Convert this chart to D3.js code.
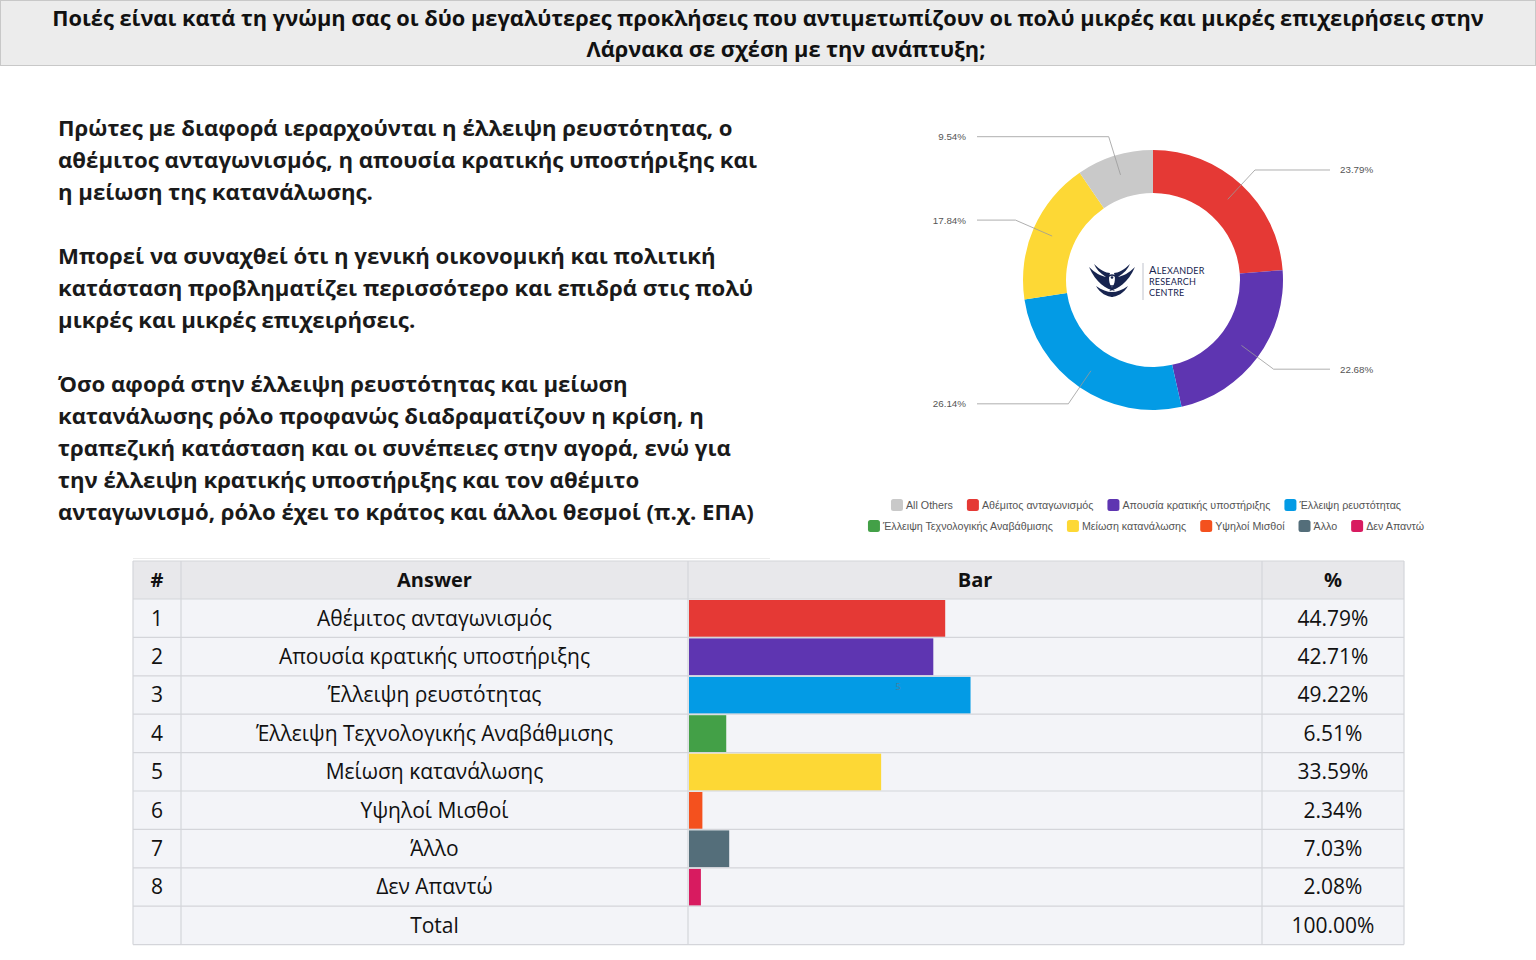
<!DOCTYPE html>
<html>
<head>
<meta charset="utf-8">
<script src="https://cdn.jsdelivr.net/npm/d3@7"></script>
<style>
  body { margin: 0; background: #fff; }
  svg { display: block; }
</style>
</head>
<body>
<div id="chart"></div>
<script>
// question and commentary
var titleLines = [
  "Ποιές είναι κατά τη γνώμη σας οι δύο μεγαλύτερες προκλήσεις που αντιμετωπίζουν οι πολύ μικρές και μικρές επιχειρήσεις στην",
  "Λάρνακα σε σχέση με την ανάπτυξη;"
];
var bodyParagraphs = [
  ["Πρώτες με διαφορά ιεραρχούνται η έλλειψη ρευστότητας, ο",
   "αθέμιτος ανταγωνισμός, η απουσία κρατικής υποστήριξης και",
   "η μείωση της κατανάλωσης."],
  ["Μπορεί να συναχθεί ότι η γενική οικονομική και πολιτική",
   "κατάσταση προβληματίζει περισσότερο και επιδρά στις πολύ",
   "μικρές και μικρές επιχειρήσεις."],
  ["Όσο αφορά στην έλλειψη ρευστότητας και μείωση",
   "κατανάλωσης ρόλο προφανώς διαδραματίζουν η κρίση, η",
   "τραπεζική κατάσταση και οι συνέπειες στην αγορά, ενώ για",
   "την έλλειψη κρατικής υποστήριξης και τον αθέμιτο",
   "ανταγωνισμό, ρόλο έχει το κράτος και άλλοι θεσμοί (π.χ. ΕΠΑ)"]
];

// table / bars
var answers = ["Αθέμιτος ανταγωνισμός", "Απουσία κρατικής υποστήριξης", "Έλλειψη ρευστότητας",
  "Έλλειψη Τεχνολογικής Αναβάθμισης", "Μείωση κατανάλωσης", "Υψηλοί Μισθοί", "Άλλο", "Δεν Απαντώ"];
var answerPct = [44.79, 42.71, 49.22, 6.51, 33.59, 2.34, 7.03, 2.08];
var totalLabel = "Total";
var totalPct = "100.00%";
var tableHeaders = ["#", "Answer", "Bar", "%"];

// donut
var donutCats = ["Αθέμιτος ανταγωνισμός", "Απουσία κρατικής υποστήριξης", "Έλλειψη ρευστότητας",
  "Μείωση κατανάλωσης", "All Others"];
var donutPct = [23.79, 22.68, 26.14, 17.84, 9.54];

// legend rows
var legendRow1 = ["All Others", "Αθέμιτος ανταγωνισμός", "Απουσία κρατικής υποστήριξης", "Έλλειψη ρευστότητας"];
var legendRow2 = ["Έλλειψη Τεχνολογικής Αναβάθμισης", "Μείωση κατανάλωσης", "Υψηλοί Μισθοί", "Άλλο", "Δεν Απαντώ"];

var color = d3.scaleOrdinal()
  .domain(["All Others"].concat(answers))
  .range(["#c9c9c9", "#e53935", "#5e35b1", "#039be5", "#43a047", "#fdd835", "#f4511e", "#546e7a", "#d81b60"]);

var W = 1536, H = 960;
var svg = d3.select("#chart").append("svg")
  .attr("width", W).attr("height", H)
  .style("background", "#fff");

// ---- title bar
svg.append("rect")
  .attr("x", 0.5).attr("y", 0.5).attr("width", W - 1).attr("height", 65)
  .attr("fill", "#ececec").attr("stroke", "#c8c8c8");
var titleCenters = [768, 786];
svg.selectAll("text.title").data(titleLines).enter().append("text")
  .attr("class", "title")
  .attr("x", function(d, i) { return titleCenters[i]; })
  .attr("y", function(d, i) { return 26 + i * 31; })
  .attr("text-anchor", "middle")
  .style("font-family", "'Open Sans', sans-serif")
  .style("font-weight", 700)
  .style("font-size", "21.8px")
  .style("fill", "#111")
  .text(function(d) { return d; });

// ---- commentary text
var paraTop = [136, 264, 392];
bodyParagraphs.forEach(function(lines, p) {
  svg.append("g").selectAll("text").data(lines).enter().append("text")
    .attr("x", 58)
    .attr("y", function(d, i) { return paraTop[p] + i * 32; })
    .style("font-family", "'Open Sans', sans-serif")
    .style("font-weight", 700)
    .style("font-size", "22.2px")
    .style("fill", "#1a1a1a")
    .text(function(d) { return d; });
});

// ---- donut
var cx = 1153, cy = 280, rOut = 130, rIn = 87;
var donutG = svg.append("g").attr("transform", "translate(" + cx + "," + cy + ")");
var pie = d3.pie().sort(null).value(function(d) { return d.v; });
var arcs = pie(donutCats.map(function(c, i) { return { c: c, v: donutPct[i] }; }));
var arc = d3.arc().innerRadius(rIn).outerRadius(rOut);
var midArc = d3.arc().innerRadius(110).outerRadius(110);
var elbowArc = d3.arc().innerRadius(150).outerRadius(150);

donutG.selectAll("path.slice").data(arcs).enter().append("path")
  .attr("class", "slice")
  .attr("d", arc)
  .attr("fill", function(d) { return color(d.data.c); });

arcs.forEach(function(d) {
  var a = midArc.centroid(d), b = elbowArc.centroid(d);
  var right = (d.startAngle + d.endAngle) / 2 < Math.PI;
  var endX = right ? 1330 - cx : 977 - cx;
  donutG.append("polyline")
    .attr("points", [a, b, [endX, b[1]]].map(function(p) { return p.join(","); }).join(" "))
    .attr("fill", "none").attr("stroke", "#9a9a9a").attr("stroke-width", 0.8);
  donutG.append("text")
    .attr("x", right ? endX + 10 : endX - 11)
    .attr("y", b[1])
    .attr("dy", "0.35em")
    .attr("text-anchor", right ? "start" : "end")
    .style("font-family", "'Liberation Sans', Arial, sans-serif")
    .style("font-size", "9.8px")
    .style("fill", "#555")
    .text(d3.format(".2f")(d.data.v) + "%");
});

// logo in the centre
var logo = svg.append("g").attr("transform", "translate(1112,281)");
var navy = "#17244f";
[-1, 1].forEach(function(s) {
  var w = logo.append("g").attr("transform", "scale(" + s + ",1)");
  w.append("path").attr("fill", navy)
    .attr("d", "M3,10 C-6,8 -16,2 -23,-14 C-17,-8 -11,-5 -6,-4 C-12,-8 -16,-12 -18,-17 C-12,-11 -6,-8 -2,-8 C-4,-2 -3,5 3,10 Z");
  w.append("path").attr("fill", navy)
    .attr("d", "M1,16 C-5,16 -12,12 -16,5 C-10,9 -5,11 0,11 Z");
});
logo.append("circle").attr("cx", 0).attr("cy", 0).attr("r", 6)
  .attr("fill", "none").attr("stroke", navy).attr("stroke-width", 1.6);
logo.append("path").attr("fill", navy).attr("d", "M-4,1 A4,4 0 0 0 4,1 A3,2.5 0 0 1 -4,1 Z");
logo.append("circle").attr("cx", 0).attr("cy", -3.5).attr("r", 1.3).attr("fill", navy);
svg.append("line").attr("x1", 1143).attr("x2", 1143).attr("y1", 263).attr("y2", 300)
  .attr("stroke", "#b0b4c0").attr("stroke-width", 0.8);
var logoText = [["A", "LEXANDER"], ["RESEARCH", ""], ["CENTRE", ""]];
logoText.forEach(function(t, i) {
  var tx = svg.append("text")
    .attr("x", 1149).attr("y", 274 + i * 11)
    .style("font-family", "Lato, 'Liberation Sans', sans-serif")
    .style("font-size", "9px")
    .style("fill", navy)
    .style("letter-spacing", "0.2px");
  if (t[1]) {
    tx.append("tspan").style("font-size", "11px").text(t[0]);
    tx.append("tspan").text(t[1]);
  } else {
    tx.text(t[0]);
  }
});

// ---- legend
function drawLegendRow(items, y) {
  var g = svg.append("g");
  var x = 0;
  items.forEach(function(name) {
    var it = g.append("g").attr("transform", "translate(" + x + ",0)");
    it.append("rect").attr("x", 0).attr("y", y - 6).attr("width", 12).attr("height", 12)
      .attr("rx", 2.5).attr("fill", color(name));
    var t = it.append("text").attr("x", 15).attr("y", y).attr("dy", "0.35em")
      .style("font-family", "'Liberation Sans', Arial, sans-serif")
      .style("font-size", "10.7px")
      .style("fill", "#555")
      .text(name);
    x += 15 + t.node().getComputedTextLength() + 14;
  });
  x -= 14;
  g.attr("transform", "translate(" + (1146 - x / 2) + ",0)");
}
drawLegendRow(legendRow1, 505);
drawLegendRow(legendRow2, 526);

// ---- table
var tX = 133, tY = 561, headH = 38, rowH = 38.4;
var cols = [133, 181, 688, 1262, 1404];
var rows = answers.map(function(a, i) { return { n: i + 1, a: a, v: answerPct[i] }; });
var nRows = rows.length + 1;
var tBottom = tY + headH + nRows * rowH;

svg.append("line").attr("x1", 133).attr("x2", 770).attr("y1", 558.5).attr("y2", 558.5)
  .attr("stroke", "#ececec");
svg.append("rect").attr("x", tX).attr("y", tY).attr("width", cols[4] - tX).attr("height", headH)
  .attr("fill", "#e8e8eb");
svg.append("rect").attr("x", tX).attr("y", tY + headH).attr("width", cols[4] - tX).attr("height", nRows * rowH)
  .attr("fill", "#f3f4f8");

var x = d3.scaleLinear().domain([0, 100]).range([cols[2] + 1, cols[3] - 1]);
var barG = svg.append("g");
barG.selectAll("rect").data(rows).enter().append("rect")
  .attr("x", x(0))
  .attr("y", function(d, i) { return tY + headH + i * rowH + 1; })
  .attr("width", function(d) { return x(d.v) - x(0); })
  .attr("height", rowH - 1.5)
  .attr("fill", function(d) { return color(d.a); });
// stray label seen on the third bar
svg.append("text").attr("x", 898).attr("y", 687).attr("dy", "0.35em").attr("text-anchor", "middle")
  .style("font-family", "'Open Sans', sans-serif").style("font-size", "9px").style("fill", "#4a7fa0")
  .text("5");

// grid lines
var gridG = svg.append("g").attr("stroke", "#d4d5da").attr("stroke-width", 1.2);
for (var r = 0; r <= nRows; r++) {
  var yy = tY + headH + r * rowH;
  gridG.append("line").attr("x1", tX).attr("x2", cols[4]).attr("y1", yy).attr("y2", yy);
}
gridG.append("line").attr("x1", tX).attr("x2", cols[4]).attr("y1", tY).attr("y2", tY);
cols.forEach(function(cxx) {
  gridG.append("line").attr("x1", cxx).attr("x2", cxx).attr("y1", tY).attr("y2", tBottom);
});

var colMid = [157, 434.5, 975, 1333];
svg.selectAll("text.head").data(tableHeaders).enter().append("text")
  .attr("class", "head")
  .attr("x", function(d, i) { return colMid[i]; })
  .attr("y", tY + headH / 2).attr("dy", "0.35em")
  .attr("text-anchor", "middle")
  .style("font-family", "'Open Sans', sans-serif")
  .style("font-weight", 700)
  .style("font-size", "20px")
  .style("fill", "#111")
  .text(function(d) { return d; });

var cellRows = rows.map(function(d) { return [String(d.n), d.a, d3.format(".2f")(d.v) + "%"]; });
cellRows.push(["", totalLabel, totalPct]);
cellRows.forEach(function(cells, i) {
  var cy2 = tY + headH + i * rowH + rowH / 2;
  [0, 1, 3].forEach(function(c, k) {
    svg.append("text")
      .attr("x", colMid[c]).attr("y", cy2).attr("dy", "0.35em")
      .attr("text-anchor", "middle")
      .style("font-family", "'Open Sans', sans-serif")
      .style("font-size", "21px")
      .style("fill", "#111")
      .text(cells[k]);
  });
});
</script>
</body>
</html>
